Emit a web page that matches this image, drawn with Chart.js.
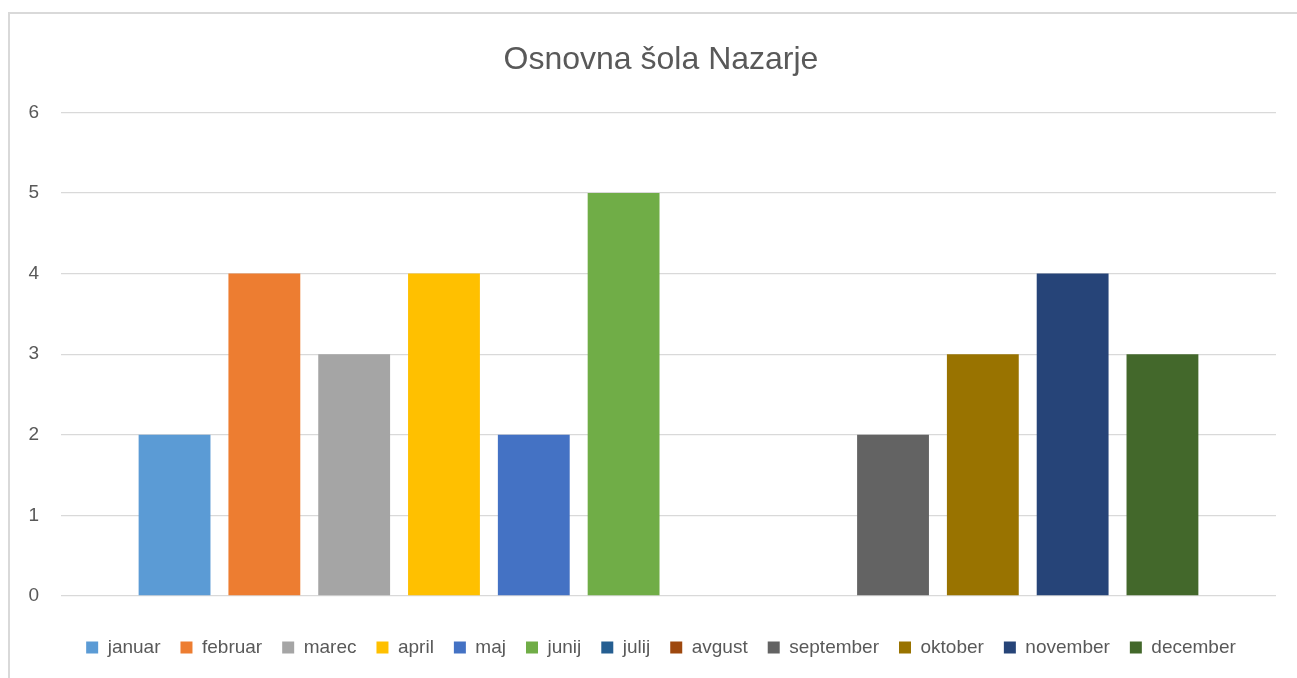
<!DOCTYPE html>
<html lang="sl">
<head>
    <meta charset="UTF-8">
    <title>Osnovna šola Nazarje</title>
    <script src="https://cdn.jsdelivr.net/npm/chart.js"></script>
    <style>
        body { margin: 0; background: #fff; overflow: hidden; }
        #okvir {
            position: absolute; left: 8px; top: 12px;
            width: 1300px; height: 680px;
            border: 2px solid #d9d9d9; box-sizing: border-box;
        }
    </style>
</head>
<body>
    <div id="okvir">
        <canvas id="graf" width="1296" height="676"></canvas>
    </div>

    <script>
        // podatki
        const meseci = ['januar', 'februar', 'marec', 'april', 'maj', 'junij',
                        'julij', 'avgust', 'september', 'oktober', 'november', 'december'];
        const vrednosti = [2, 4, 3, 4, 2, 5, 0, 0, 2, 3, 4, 3];
        const barve = ['#5B9BD5', '#ED7D31', '#A5A5A5', '#FFC000', '#4472C4', '#70AD47',
                       '#255E91', '#9E480E', '#636363', '#997300', '#264478', '#43682B'];
        const oznakeY = [0, 1, 2, 3, 4, 5, 6];

        const siva = '#595959';
        const pisava = 'Liberation Sans, Arial, sans-serif';

        new Chart(document.getElementById('graf'), {
            type: 'bar',
            data: {
                labels: [''],
                datasets: meseci.map((m, i) => ({
                    label: m,
                    data: [vrednosti[i]],
                    backgroundColor: barve[i],
                    borderWidth: 0
                }))
            },
            options: {
                responsive: false,
                animation: false,
                categoryPercentage: 0.887,
                barPercentage: 0.8,
                layout: { padding: { left: 6, right: 0, top: 0, bottom: 23 } },
                plugins: {
                    title: {
                        display: true,
                        text: 'Osnovna šola Nazarje',
                        color: siva,
                        font: { family: pisava, size: 32, weight: 'normal' },
                        padding: { top: 27, bottom: 33 }
                    },
                    legend: {
                        position: 'bottom',
                        labels: {
                            color: siva,
                            font: { family: pisava, size: 19 },
                            boxWidth: 12,
                            boxHeight: 12,
                            padding: 20
                        }
                    },
                    tooltip: { enabled: false }
                },
                scales: {
                    x: {
                        afterFit: s => { s.height = 22; },
                        ticks: { display: false },
                        grid: { display: false },
                        border: { display: false }
                    },
                    y: {
                        min: oznakeY[0],
                        max: oznakeY[oznakeY.length - 1],
                        afterFit: s => { s.width = 45; },
                        afterBuildTicks: s => { s.ticks = oznakeY.map(v => ({ value: v })); },
                        ticks: {
                            color: siva,
                            font: { family: pisava, size: 19 },
                            padding: 22
                        },
                        grid: { color: '#d9d9d9', lineWidth: 1.3, drawTicks: false },
                        border: { display: false }
                    },
                    desno: {
                        position: 'right',
                        afterFit: s => { s.width = 30; },
                        ticks: { display: false },
                        grid: { display: false },
                        border: { display: false }
                    }
                }
            }
        });
    </script>
</body>
</html>
